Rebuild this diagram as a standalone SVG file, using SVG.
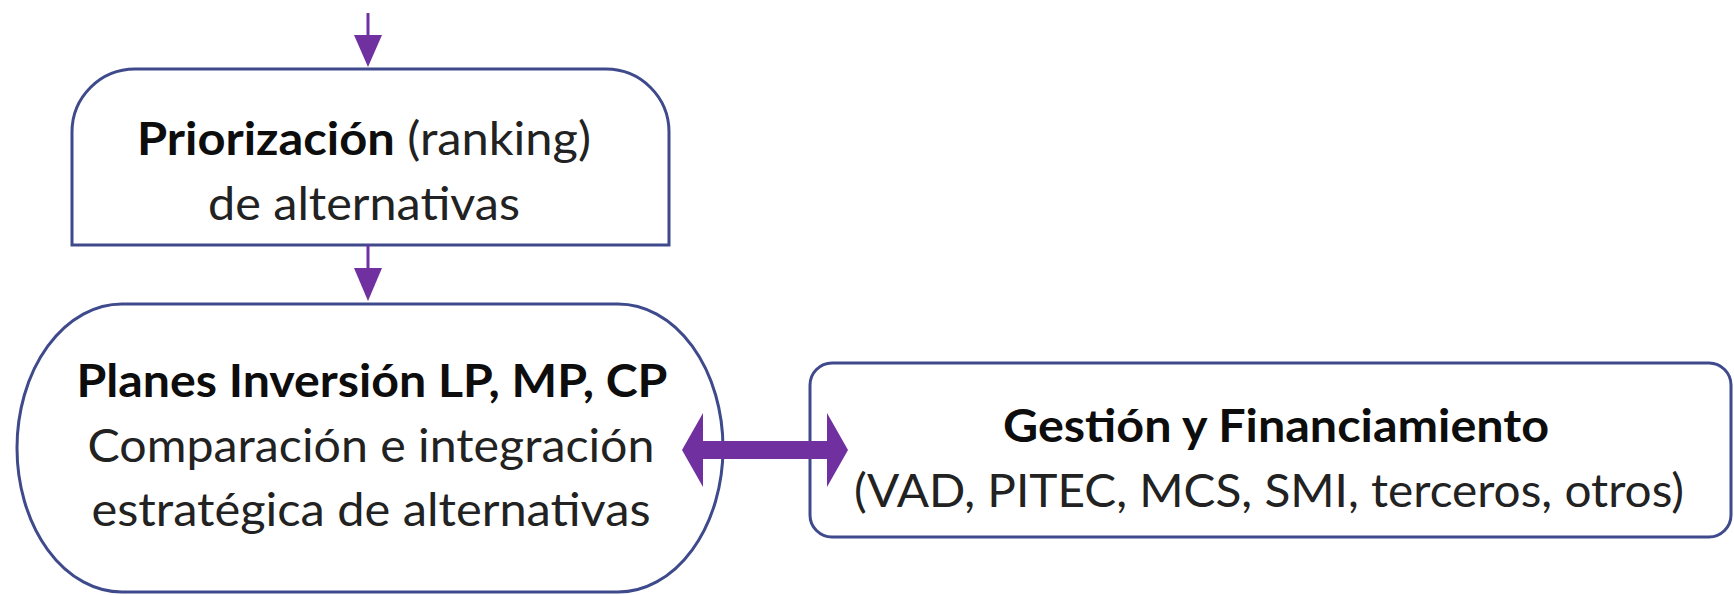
<svg xmlns="http://www.w3.org/2000/svg" width="1734" height="595" viewBox="0 0 1734 595">
<style>
.box{fill:#ffffff;stroke:#3f4a8c;stroke-width:3}
.t{font-family:Lato,"Open Sans","Liberation Sans",sans-serif;font-size:46.5px;fill:#222222;text-anchor:middle}
.b{font-weight:bold;fill:#0d0d0d}
.ln{stroke:#7030a0;stroke-width:3;fill:none}
.ah{fill:#7030a0}
</style>
<rect width="1734" height="595" fill="#ffffff"/>
<g id="node-priorizacion">
<path class="box" d="M72,245 V132 A63,63 0 0 1 135,69 H606 A63,63 0 0 1 669,132 V245 Z"/>
<text class="t" x="364" y="155" textLength="454" lengthAdjust="spacingAndGlyphs"><tspan class="b">Priorización</tspan> (ranking)</text>
<text class="t" x="364" y="220" textLength="312" lengthAdjust="spacingAndGlyphs">de alternativas</text>
</g>
<g id="node-planes">
<rect class="box" x="17" y="304" width="706" height="288" rx="105" ry="144"/>
<text class="t b" x="372" y="397" textLength="591" lengthAdjust="spacingAndGlyphs">Planes Inversión LP, MP, CP</text>
<text class="t" x="371" y="462" textLength="567" lengthAdjust="spacingAndGlyphs">Comparación e integración</text>
<text class="t" x="371" y="526" textLength="559" lengthAdjust="spacingAndGlyphs">estratégica de alternativas</text>
</g>
<g id="node-gestion">
<rect class="box" x="810" y="363" width="921" height="174" rx="22" ry="22"/>
<text class="t b" x="1276" y="442" textLength="546" lengthAdjust="spacingAndGlyphs">Gestión y Financiamiento</text>
<text class="t" x="1269" y="507" textLength="830" lengthAdjust="spacingAndGlyphs">(VAD, PITEC, MCS, SMI, terceros, otros)</text>
</g>
<g id="connectors">
<line class="ln" x1="368" y1="13" x2="368" y2="40"/>
<polygon class="ah" points="354,35 382,35 368,67"/>
<line class="ln" x1="368" y1="245" x2="368" y2="272"/>
<polygon class="ah" points="354,268 382,268 368,301"/>
<polygon class="ah" points="682,450 703,413 703,441 827,441 827,413 848,450 827,487 827,459 703,459 703,487"/>
</g>
</svg>
